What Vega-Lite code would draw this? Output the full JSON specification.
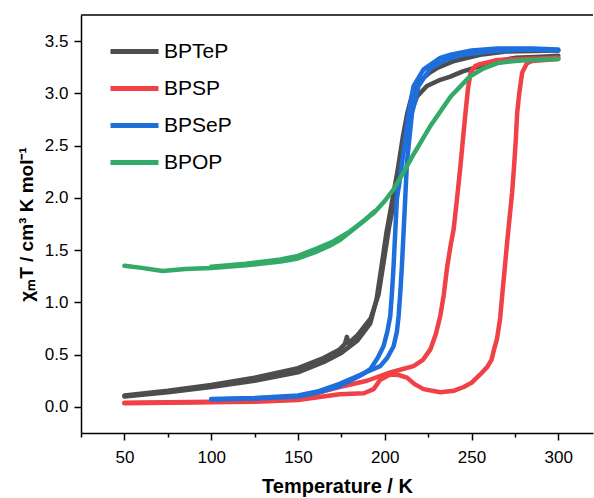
{
  "$schema": "https://vega.github.io/schema/vega-lite/v6.json",
  "width": 512,
  "height": 418,
  "autosize": {"type": "none"},
  "padding": {"left": 81, "top": 15, "right": 1, "bottom": 65},
  "background": "white",
  "config": {"view": {"stroke": null}, "font": "Liberation Sans"},
  "datasets": {
    "curves": [
      {"s":"BPTeP","k":"Te-a","T":50,"v":0.10},{"s":"BPTeP","k":"Te-a","T":75,"v":0.14},{"s":"BPTeP","k":"Te-a","T":100,"v":0.19},{"s":"BPTeP","k":"Te-a","T":125,"v":0.25},{"s":"BPTeP","k":"Te-a","T":150,"v":0.33},{"s":"BPTeP","k":"Te-a","T":165,"v":0.43},{"s":"BPTeP","k":"Te-a","T":174.4,"v":0.51},{"s":"BPTeP","k":"Te-a","T":184,"v":0.63},{"s":"BPTeP","k":"Te-a","T":191.7,"v":0.80},{"s":"BPTeP","k":"Te-a","T":195.3,"v":1.03},{"s":"BPTeP","k":"Te-a","T":198.2,"v":1.35},{"s":"BPTeP","k":"Te-a","T":201,"v":1.67},{"s":"BPTeP","k":"Te-a","T":204.5,"v":1.99},{"s":"BPTeP","k":"Te-a","T":207.5,"v":2.27},{"s":"BPTeP","k":"Te-a","T":210.5,"v":2.59},{"s":"BPTeP","k":"Te-a","T":213,"v":2.81},{"s":"BPTeP","k":"Te-a","T":215.5,"v":2.97},{"s":"BPTeP","k":"Te-a","T":218.5,"v":3.08},{"s":"BPTeP","k":"Te-a","T":222.4,"v":3.15},{"s":"BPTeP","k":"Te-a","T":226,"v":3.20},{"s":"BPTeP","k":"Te-a","T":230,"v":3.24},{"s":"BPTeP","k":"Te-a","T":240,"v":3.31},{"s":"BPTeP","k":"Te-a","T":255,"v":3.37},{"s":"BPTeP","k":"Te-a","T":270,"v":3.40},{"s":"BPTeP","k":"Te-a","T":300,"v":3.41},
      {"s":"BPTeP","k":"Te-b","T":50,"v":0.11},{"s":"BPTeP","k":"Te-b","T":75,"v":0.155},{"s":"BPTeP","k":"Te-b","T":100,"v":0.21},{"s":"BPTeP","k":"Te-b","T":125,"v":0.28},{"s":"BPTeP","k":"Te-b","T":150,"v":0.37},{"s":"BPTeP","k":"Te-b","T":165,"v":0.47},{"s":"BPTeP","k":"Te-b","T":174,"v":0.55},{"s":"BPTeP","k":"Te-b","T":177,"v":0.60},{"s":"BPTeP","k":"Te-b","T":178.2,"v":0.67},{"s":"BPTeP","k":"Te-b","T":179.2,"v":0.61},{"s":"BPTeP","k":"Te-b","T":184,"v":0.68},{"s":"BPTeP","k":"Te-b","T":192,"v":0.85},{"s":"BPTeP","k":"Te-b","T":196.5,"v":1.08},{"s":"BPTeP","k":"Te-b","T":199.5,"v":1.40},{"s":"BPTeP","k":"Te-b","T":202.5,"v":1.72},{"s":"BPTeP","k":"Te-b","T":206,"v":2.02},{"s":"BPTeP","k":"Te-b","T":209,"v":2.30},{"s":"BPTeP","k":"Te-b","T":212.5,"v":2.60},{"s":"BPTeP","k":"Te-b","T":215.5,"v":2.83},{"s":"BPTeP","k":"Te-b","T":218.6,"v":2.97},{"s":"BPTeP","k":"Te-b","T":224.3,"v":3.07},{"s":"BPTeP","k":"Te-b","T":232,"v":3.13},{"s":"BPTeP","k":"Te-b","T":237.8,"v":3.16},{"s":"BPTeP","k":"Te-b","T":245,"v":3.21},{"s":"BPTeP","k":"Te-b","T":255,"v":3.26},{"s":"BPTeP","k":"Te-b","T":265,"v":3.31},{"s":"BPTeP","k":"Te-b","T":275,"v":3.34},{"s":"BPTeP","k":"Te-b","T":290,"v":3.35},{"s":"BPTeP","k":"Te-b","T":300,"v":3.36},

      {"s":"BPSP","k":"S-c","T":50,"v":0.04},{"s":"BPSP","k":"S-c","T":75,"v":0.045},{"s":"BPSP","k":"S-c","T":100,"v":0.05},{"s":"BPSP","k":"S-c","T":125,"v":0.06},{"s":"BPSP","k":"S-c","T":150,"v":0.09},{"s":"BPSP","k":"S-c","T":165,"v":0.15},{"s":"BPSP","k":"S-c","T":174,"v":0.19},{"s":"BPSP","k":"S-c","T":189.8,"v":0.25},{"s":"BPSP","k":"S-c","T":203.2,"v":0.33},{"s":"BPSP","k":"S-c","T":210,"v":0.36},{"s":"BPSP","k":"S-c","T":216.6,"v":0.39},{"s":"BPSP","k":"S-c","T":222,"v":0.45},{"s":"BPSP","k":"S-c","T":226.3,"v":0.55},{"s":"BPSP","k":"S-c","T":229.5,"v":0.70},{"s":"BPSP","k":"S-c","T":232,"v":0.87},{"s":"BPSP","k":"S-c","T":234,"v":1.07},{"s":"BPSP","k":"S-c","T":235.9,"v":1.33},{"s":"BPSP","k":"S-c","T":237.8,"v":1.53},{"s":"BPSP","k":"S-c","T":239.7,"v":1.70},{"s":"BPSP","k":"S-c","T":241.5,"v":1.97},{"s":"BPSP","k":"S-c","T":243.6,"v":2.3},{"s":"BPSP","k":"S-c","T":245,"v":2.55},{"s":"BPSP","k":"S-c","T":246.5,"v":2.81},{"s":"BPSP","k":"S-c","T":248,"v":3.05},{"s":"BPSP","k":"S-c","T":249.5,"v":3.2},{"s":"BPSP","k":"S-c","T":252,"v":3.26},{"s":"BPSP","k":"S-c","T":255,"v":3.28},{"s":"BPSP","k":"S-c","T":265,"v":3.32},{"s":"BPSP","k":"S-c","T":280,"v":3.33},{"s":"BPSP","k":"S-c","T":300,"v":3.34},
      {"s":"BPSP","k":"S-h","T":50,"v":0.035},{"s":"BPSP","k":"S-h","T":75,"v":0.04},{"s":"BPSP","k":"S-h","T":100,"v":0.045},{"s":"BPSP","k":"S-h","T":125,"v":0.05},{"s":"BPSP","k":"S-h","T":150,"v":0.065},{"s":"BPSP","k":"S-h","T":174,"v":0.12},{"s":"BPSP","k":"S-h","T":188,"v":0.13},{"s":"BPSP","k":"S-h","T":193.6,"v":0.17},{"s":"BPSP","k":"S-h","T":197.4,"v":0.26},{"s":"BPSP","k":"S-h","T":203.2,"v":0.31},{"s":"BPSP","k":"S-h","T":208,"v":0.305},{"s":"BPSP","k":"S-h","T":212.8,"v":0.28},{"s":"BPSP","k":"S-h","T":217,"v":0.22},{"s":"BPSP","k":"S-h","T":222.4,"v":0.17},{"s":"BPSP","k":"S-h","T":232,"v":0.14},{"s":"BPSP","k":"S-h","T":240,"v":0.155},{"s":"BPSP","k":"S-h","T":245.5,"v":0.19},{"s":"BPSP","k":"S-h","T":250,"v":0.23},{"s":"BPSP","k":"S-h","T":255,"v":0.31},{"s":"BPSP","k":"S-h","T":259,"v":0.38},{"s":"BPSP","k":"S-h","T":261.5,"v":0.45},{"s":"BPSP","k":"S-h","T":263,"v":0.55},{"s":"BPSP","k":"S-h","T":264.7,"v":0.65},{"s":"BPSP","k":"S-h","T":266.5,"v":0.85},{"s":"BPSP","k":"S-h","T":267.8,"v":1.09},{"s":"BPSP","k":"S-h","T":269,"v":1.3},{"s":"BPSP","k":"S-h","T":270.5,"v":1.57},{"s":"BPSP","k":"S-h","T":272,"v":1.82},{"s":"BPSP","k":"S-h","T":273.4,"v":2.05},{"s":"BPSP","k":"S-h","T":274.5,"v":2.3},{"s":"BPSP","k":"S-h","T":275.5,"v":2.55},{"s":"BPSP","k":"S-h","T":276.3,"v":2.81},{"s":"BPSP","k":"S-h","T":277.5,"v":3.0},{"s":"BPSP","k":"S-h","T":279.2,"v":3.2},{"s":"BPSP","k":"S-h","T":282,"v":3.29},{"s":"BPSP","k":"S-h","T":285,"v":3.31},{"s":"BPSP","k":"S-h","T":300,"v":3.33},

      {"s":"BPSeP","k":"Se-a","T":100,"v":0.07},{"s":"BPSeP","k":"Se-a","T":125,"v":0.08},{"s":"BPSeP","k":"Se-a","T":150,"v":0.10},{"s":"BPSeP","k":"Se-a","T":162,"v":0.14},{"s":"BPSeP","k":"Se-a","T":174,"v":0.20},{"s":"BPSeP","k":"Se-a","T":180,"v":0.25},{"s":"BPSeP","k":"Se-a","T":186,"v":0.30},{"s":"BPSeP","k":"Se-a","T":191.7,"v":0.36},{"s":"BPSeP","k":"Se-a","T":196,"v":0.47},{"s":"BPSeP","k":"Se-a","T":199.3,"v":0.58},{"s":"BPSeP","k":"Se-a","T":201.5,"v":0.72},{"s":"BPSeP","k":"Se-a","T":203.2,"v":0.87},{"s":"BPSeP","k":"Se-a","T":204.2,"v":1.1},{"s":"BPSeP","k":"Se-a","T":205.1,"v":1.35},{"s":"BPSeP","k":"Se-a","T":206,"v":1.65},{"s":"BPSeP","k":"Se-a","T":207,"v":1.99},{"s":"BPSeP","k":"Se-a","T":208.5,"v":2.15},{"s":"BPSeP","k":"Se-a","T":210,"v":2.34},{"s":"BPSeP","k":"Se-a","T":213.8,"v":2.81},{"s":"BPSeP","k":"Se-a","T":216.6,"v":3.07},{"s":"BPSeP","k":"Se-a","T":222.4,"v":3.23},{"s":"BPSeP","k":"Se-a","T":232,"v":3.34},{"s":"BPSeP","k":"Se-a","T":238,"v":3.37},{"s":"BPSeP","k":"Se-a","T":250,"v":3.41},{"s":"BPSeP","k":"Se-a","T":265,"v":3.43},{"s":"BPSeP","k":"Se-a","T":285,"v":3.43},{"s":"BPSeP","k":"Se-a","T":300,"v":3.42},
      {"s":"BPSeP","k":"Se-b","T":100,"v":0.075},{"s":"BPSeP","k":"Se-b","T":125,"v":0.085},{"s":"BPSeP","k":"Se-b","T":150,"v":0.11},{"s":"BPSeP","k":"Se-b","T":162,"v":0.15},{"s":"BPSeP","k":"Se-b","T":174,"v":0.22},{"s":"BPSeP","k":"Se-b","T":185,"v":0.30},{"s":"BPSeP","k":"Se-b","T":192,"v":0.35},{"s":"BPSeP","k":"Se-b","T":197.4,"v":0.39},{"s":"BPSeP","k":"Se-b","T":201.5,"v":0.47},{"s":"BPSeP","k":"Se-b","T":205.1,"v":0.58},{"s":"BPSeP","k":"Se-b","T":207,"v":0.72},{"s":"BPSeP","k":"Se-b","T":208,"v":0.87},{"s":"BPSeP","k":"Se-b","T":209,"v":1.1},{"s":"BPSeP","k":"Se-b","T":209.9,"v":1.35},{"s":"BPSeP","k":"Se-b","T":210.8,"v":1.65},{"s":"BPSeP","k":"Se-b","T":211.8,"v":1.99},{"s":"BPSeP","k":"Se-b","T":212.8,"v":2.34},{"s":"BPSeP","k":"Se-b","T":215.7,"v":2.81},{"s":"BPSeP","k":"Se-b","T":219.5,"v":3.07},{"s":"BPSeP","k":"Se-b","T":226.3,"v":3.24},{"s":"BPSeP","k":"Se-b","T":235,"v":3.32},{"s":"BPSeP","k":"Se-b","T":245,"v":3.37},{"s":"BPSeP","k":"Se-b","T":260,"v":3.40},{"s":"BPSeP","k":"Se-b","T":280,"v":3.42},{"s":"BPSeP","k":"Se-b","T":300,"v":3.41},

      {"s":"BPOP","k":"O-a","T":50,"v":1.35},{"s":"BPOP","k":"O-a","T":60,"v":1.33},{"s":"BPOP","k":"O-a","T":72,"v":1.30},{"s":"BPOP","k":"O-a","T":85,"v":1.32},{"s":"BPOP","k":"O-a","T":100,"v":1.33},{"s":"BPOP","k":"O-a","T":120,"v":1.355},{"s":"BPOP","k":"O-a","T":140,"v":1.39},{"s":"BPOP","k":"O-a","T":150,"v":1.42},{"s":"BPOP","k":"O-a","T":160,"v":1.48},{"s":"BPOP","k":"O-a","T":168,"v":1.54},{"s":"BPOP","k":"O-a","T":174.4,"v":1.60},{"s":"BPOP","k":"O-a","T":182,"v":1.70},{"s":"BPOP","k":"O-a","T":188,"v":1.78},{"s":"BPOP","k":"O-a","T":194,"v":1.86},{"s":"BPOP","k":"O-a","T":200,"v":1.97},{"s":"BPOP","k":"O-a","T":205,"v":2.08},{"s":"BPOP","k":"O-a","T":210,"v":2.22},{"s":"BPOP","k":"O-a","T":216,"v":2.40},{"s":"BPOP","k":"O-a","T":226,"v":2.68},{"s":"BPOP","k":"O-a","T":238,"v":2.97},{"s":"BPOP","k":"O-a","T":249,"v":3.16},{"s":"BPOP","k":"O-a","T":257,"v":3.24},{"s":"BPOP","k":"O-a","T":265,"v":3.29},{"s":"BPOP","k":"O-a","T":275,"v":3.31},{"s":"BPOP","k":"O-a","T":284,"v":3.32},{"s":"BPOP","k":"O-a","T":300,"v":3.33},
      {"s":"BPOP","k":"O-b","T":100,"v":1.34},{"s":"BPOP","k":"O-b","T":120,"v":1.37},{"s":"BPOP","k":"O-b","T":140,"v":1.41},{"s":"BPOP","k":"O-b","T":150,"v":1.445},{"s":"BPOP","k":"O-b","T":160,"v":1.51},{"s":"BPOP","k":"O-b","T":170,"v":1.58},{"s":"BPOP","k":"O-b","T":180,"v":1.68},{"s":"BPOP","k":"O-b","T":188,"v":1.78},{"s":"BPOP","k":"O-b","T":194,"v":1.87}
    ],
    "frame": [{"edge": "top"}]
  },
  "layer": [
    {
      "data": {"name": "curves"},
      "mark": {"type": "line", "strokeWidth": 4.5, "strokeCap": "round", "strokeJoin": "round"},
      "encoding": {
        "x": {
          "field": "T", "type": "quantitative",
          "scale": {"domain": [25, 320], "nice": false, "zero": false},
          "axis": {
            "values": [25, 50, 75, 100, 125, 150, 175, 200, 225, 250, 275, 300],
            "labelExpr": "datum.value % 50 === 0 ? datum.label : ''",
            "labelOverlap": false,
            "tickSize": {"condition": {"test": "datum.value % 50 === 0", "value": 7}, "value": 4},
            "grid": false,
            "domainColor": "#000", "domainWidth": 1.5,
            "tickColor": "#000", "tickWidth": 1.5,
            "labelFontSize": 17, "labelColor": "#000", "labelPadding": 9, "labelFlush": false,
            "title": "Temperature / K", "titleFontSize": 20, "titleFontWeight": "bold", "titleColor": "#000", "titlePadding": 11
          }
        },
        "y": {
          "field": "v", "type": "quantitative",
          "scale": {"domain": [-0.25, 3.75], "nice": false, "zero": false},
          "axis": {
            "values": [0, 0.5, 1, 1.5, 2, 2.5, 3, 3.5],
            "format": ".1f",
            "tickSize": 7,
            "grid": false,
            "domainColor": "#000", "domainWidth": 1.5,
            "tickColor": "#000", "tickWidth": 1.5,
            "labelFontSize": 17, "labelColor": "#000", "labelPadding": 6, "labelFlush": false, "labelOverlap": false,
            "title": "χₘT / cm³ K mol⁻¹", "titleFontSize": 19, "titleFontWeight": "bold", "titleColor": "#000", "titlePadding": 8
          }
        },
        "color": {
          "field": "s", "type": "nominal",
          "scale": {"domain": ["BPTeP", "BPSP", "BPSeP", "BPOP"], "range": ["#4d4d4d", "#f04146", "#1e6fdc", "#33aa68"]},
          "legend": {
            "orient": "none", "legendX": 27, "legendY": 10,
            "title": null, "symbolType": "stroke", "symbolSize": 2304, "symbolStrokeWidth": 5,
            "labelFontSize": 21, "labelColor": "#000", "labelOffset": 3, "rowPadding": -21.3, "padding": 0
          }
        },
        "detail": {"field": "k"}
      }
    },
    {
      "data": {"name": "frame"},
      "mark": {"type": "rule", "color": "#000", "strokeWidth": 1.5},
      "encoding": {"y": {"datum": 3.75, "type": "quantitative"}}
    }
  ]
}
